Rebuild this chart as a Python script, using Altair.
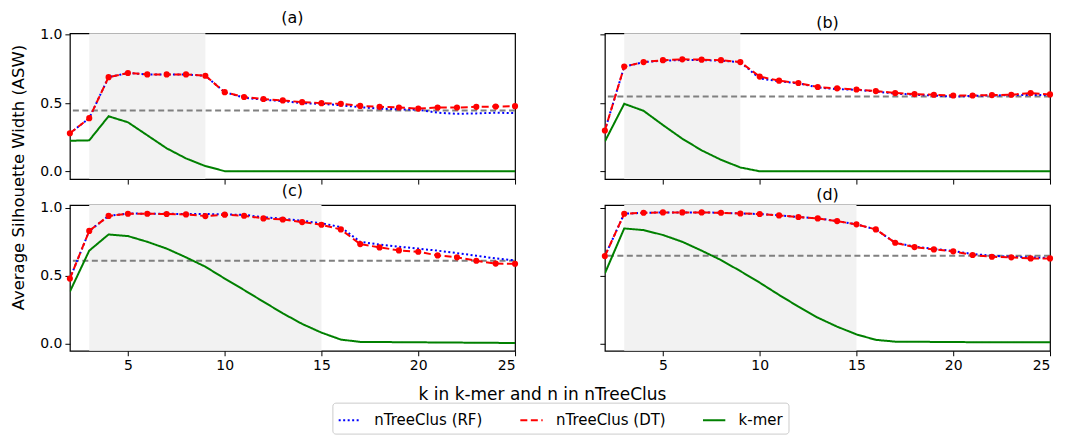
import altair as alt
import pandas as pd

ks = list(range(2, 26))
series_names = ["nTreeClus (RF)", "nTreeClus (DT)", "k-mer"]
panel_names = ["(a)", "(b)", "(c)", "(d)"]

a_rf = [0.28, 0.39, 0.69, 0.72, 0.71, 0.71, 0.71, 0.70, 0.58, 0.54, 0.525, 0.515, 0.50, 0.495, 0.485, 0.47, 0.46, 0.455, 0.452, 0.43, 0.422, 0.425, 0.43, 0.427]
a_dt = [0.28, 0.39, 0.69, 0.72, 0.71, 0.71, 0.71, 0.70, 0.58, 0.545, 0.53, 0.52, 0.507, 0.50, 0.495, 0.48, 0.473, 0.468, 0.46, 0.468, 0.468, 0.473, 0.475, 0.478]
a_km = [0.225, 0.228, 0.404, 0.36, 0.265, 0.17, 0.096, 0.04, 0.003, 0.003, 0.003, 0.003, 0.003, 0.003, 0.003, 0.003, 0.003, 0.003, 0.003, 0.003, 0.003, 0.003, 0.003, 0.003]

b_rf = [0.30, 0.767, 0.80, 0.81, 0.815, 0.815, 0.81, 0.80, 0.68, 0.66, 0.645, 0.615, 0.602, 0.598, 0.585, 0.57, 0.562, 0.555, 0.548, 0.553, 0.556, 0.558, 0.56, 0.56]
b_dt = [0.30, 0.767, 0.80, 0.814, 0.82, 0.818, 0.814, 0.80, 0.694, 0.664, 0.647, 0.618, 0.608, 0.60, 0.588, 0.574, 0.566, 0.561, 0.556, 0.556, 0.559, 0.561, 0.574, 0.564]
b_km = [0.22, 0.495, 0.444, 0.34, 0.24, 0.155, 0.086, 0.03, 0.002, 0.002, 0.002, 0.002, 0.002, 0.002, 0.002, 0.002, 0.002, 0.002, 0.002, 0.002, 0.002, 0.002, 0.002, 0.002]

c_rf = [0.48, 0.83, 0.94, 0.958, 0.956, 0.956, 0.954, 0.954, 0.951, 0.948, 0.93, 0.92, 0.904, 0.886, 0.858, 0.75, 0.73, 0.714, 0.70, 0.685, 0.667, 0.648, 0.628, 0.614]
c_dt = [0.48, 0.83, 0.94, 0.956, 0.956, 0.954, 0.951, 0.939, 0.949, 0.941, 0.922, 0.914, 0.895, 0.875, 0.841, 0.733, 0.709, 0.687, 0.677, 0.65, 0.636, 0.611, 0.59, 0.589]
c_km = [0.384, 0.685, 0.804, 0.792, 0.75, 0.70, 0.636, 0.567, 0.48, 0.396, 0.31, 0.225, 0.147, 0.083, 0.032, 0.015, 0.014, 0.013, 0.012, 0.011, 0.010, 0.009, 0.008, 0.007]

d_rf = [0.645, 0.956, 0.963, 0.966, 0.966, 0.966, 0.963, 0.958, 0.954, 0.944, 0.932, 0.922, 0.902, 0.878, 0.841, 0.743, 0.715, 0.697, 0.683, 0.66, 0.648, 0.64, 0.635, 0.632]
d_dt = [0.645, 0.956, 0.963, 0.966, 0.966, 0.966, 0.963, 0.958, 0.954, 0.944, 0.932, 0.922, 0.902, 0.878, 0.841, 0.743, 0.711, 0.694, 0.68, 0.653, 0.64, 0.636, 0.628, 0.628]
d_km = [0.518, 0.848, 0.836, 0.80, 0.75, 0.685, 0.616, 0.535, 0.45, 0.36, 0.274, 0.193, 0.127, 0.07, 0.03, 0.017, 0.016, 0.015, 0.014, 0.013, 0.013, 0.012, 0.012, 0.012]

baselines = [0.446, 0.549, 0.611, 0.648]
shade_start = [3, 3, 3, 3]
shade_end = [9, 9, 15, 15]

panel_series = {
    "(a)": [a_rf, a_dt, a_km],
    "(b)": [b_rf, b_dt, b_km],
    "(c)": [c_rf, c_dt, c_km],
    "(d)": [d_rf, d_dt, d_km],
}

rows = []
for p in panel_names:
    for s, vals in zip(series_names, panel_series[p]):
        for k, v in zip(ks, vals):
            rows.append({"panel": p, "series": s, "k": k, "asw": v})
df = pd.DataFrame(rows)
ref_df = pd.DataFrame({"panel": panel_names, "base": baselines,
                       "start": shade_start, "end": shade_end})

FONT = "DejaVu Sans"
W, H = 446, 146
colors = ["#0000ff", "#ff0000", "#008000"]
dashes = [[2, 2.5], [7, 3.5], [1, 0]]

color_scale = alt.Scale(domain=series_names, range=colors)
dash_scale = alt.Scale(domain=series_names, range=dashes)


def panel(p, show_xlab, show_ylab, row_top):
    ydom = [-0.055, 1.01] if row_top else [-0.05, 1.02]
    xs = alt.Scale(domain=[2, 25], nice=False, zero=False)
    ys = alt.Scale(domain=ydom, nice=False, zero=False)
    xaxis = alt.Axis(values=[5, 10, 15, 20, 25], labels=show_xlab, title=None,
                     grid=False, format="d")
    if p == "(c)":
        xaxis = alt.Axis(values=[5, 10, 15, 20, 25], labels=True,
                         title="k in k-mer and n in nTreeClus",
                         titleX=473, titleY=44, titleAnchor="middle",
                         titleAlign="center", titleBaseline="middle",
                         titleFontSize=17,
                         grid=False, format="d")
    yaxis = alt.Axis(values=[0, 0.5, 1.0], labels=show_ylab, title=None,
                     grid=False, format=".1f")
    if p == "(a)":
        yaxis = alt.Axis(values=[0, 0.5, 1.0], labels=True,
                         title="Average Silhouette Width (ASW)",
                         titleX=-43, titleY=144, titleAngle=-90,
                         titleAlign="center", titleBaseline="bottom",
                         titleFontSize=16.5,
                         grid=False, format=".1f")
    pdata = df[df["panel"] == p]
    rdata = ref_df[ref_df["panel"] == p]

    shade = alt.Chart(rdata).mark_rect(color="#f2f2f2").encode(
        x=alt.X("start:Q", scale=xs, axis=xaxis), x2="end:Q")
    base = alt.Chart(rdata).mark_rule(color="#808080", strokeWidth=2,
                                      strokeDash=[6, 3.5]).encode(
        y=alt.Y("base:Q", scale=ys, axis=yaxis))
    lines = alt.Chart(pdata).mark_line(strokeWidth=2, clip=True).encode(
        x=alt.X("k:Q", scale=xs),
        y=alt.Y("asw:Q", scale=ys),
        color=alt.Color("series:N", scale=color_scale, sort=series_names,
                        legend=alt.Legend(title=None, orient="none",
                                          direction="horizontal",
                                          legendX=263, legendY=370,
                                          symbolType="stroke",
                                          symbolStrokeWidth=2,
                                          symbolSize=500,
                                          labelFontSize=15,
                                          labelFont=FONT,
                                          labelColor="#000000",
                                          columnPadding=33,
                                          labelOffset=12,
                                          strokeColor="#cccccc",
                                          cornerRadius=3,
                                          padding=5)),
        strokeDash=alt.StrokeDash("series:N", scale=dash_scale,
                                  sort=series_names, legend=None),
        order=alt.Order("k:Q"),
        detail="series:N",
    )
    pts = alt.Chart(pdata[pdata["series"] == "nTreeClus (DT)"]).mark_point(
        filled=True, size=38, color="#ff0000", opacity=1).encode(
        x=alt.X("k:Q", scale=xs), y=alt.Y("asw:Q", scale=ys))
    return alt.layer(shade, base, lines, pts).properties(
        width=W, height=H,
        title=alt.TitleParams(p, fontSize=16, font=FONT, fontWeight="normal",
                              color="#000000", offset=2))


chart = alt.concat(
    panel("(a)", False, True, True),
    panel("(b)", False, False, True),
    panel("(c)", True, True, False),
    panel("(d)", True, False, False),
    columns=2, spacing={"row": 26, "column": 90},
).properties(
    bounds="flush", padding={"left": 2, "top": 0, "right": 5, "bottom": 0}
).configure_view(stroke="#000000", strokeWidth=1.2).configure_axis(
    labelFont=FONT, labelFontSize=14, labelColor="#000000",
    titleFont=FONT, titleFontSize=16, titleFontWeight="normal",
    titleColor="#000000",
    tickColor="#000000", tickSize=5, domain=False, labelPadding=3,
)

chart.save("out.html", embed_options={"renderer": "svg", "actions": False})
